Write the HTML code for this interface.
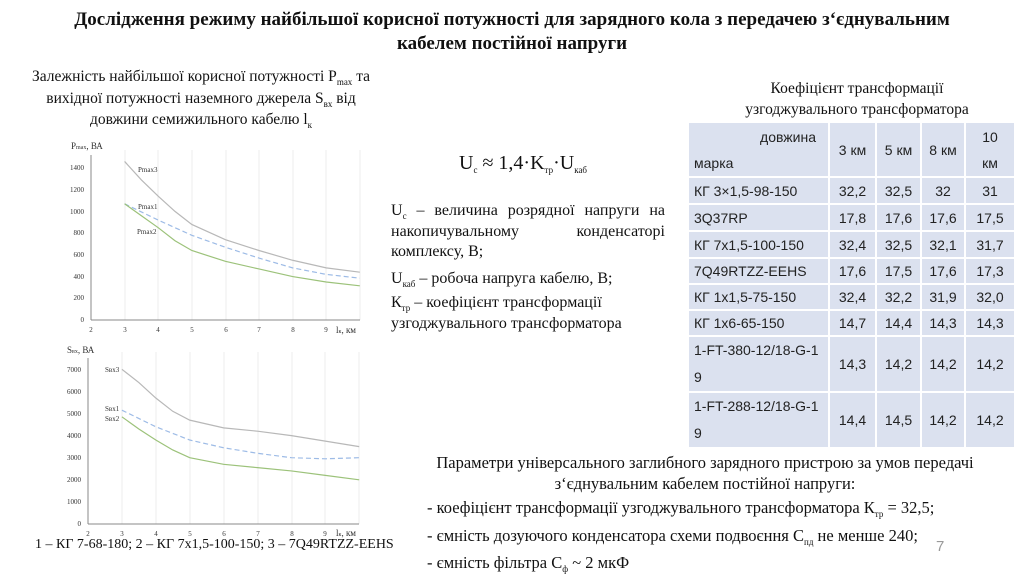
<!DOCTYPE html>
<html><head><meta charset="utf-8">
<style>
body{margin:0;width:1024px;height:576px;background:#fff;position:relative;overflow:hidden;font-family:"Liberation Serif",serif;color:#111}
.a{position:absolute;white-space:nowrap}
.t{font-weight:bold;font-size:19px;text-align:center;width:1024px;left:0}
.s{font-size:15.5px}
.m{font-size:16px}
.j{text-align:justify;text-align-last:justify;width:274px;white-space:normal}
sub{font-size:9px;vertical-align:-4px}
table{position:absolute;left:687px;top:121px;border-collapse:collapse;table-layout:fixed;width:327px;font-family:"Liberation Sans","DejaVu Sans",sans-serif;font-size:14px;color:#222}
td{background:#dbe1ef;border:2px solid #fff;padding:0;text-align:center}
td.l{text-align:left;padding-left:5px}
</style></head><body>
<div class="a t" style="top:9px">Дослідження режиму найбільшої корисної потужності для зарядного кола з передачею з‘єднувальним</div>
<div class="a t" style="top:33px">кабелем постійної напруги</div>

<div class="a s" style="left:0;width:402px;text-align:center;top:68px">Залежність найбільшої корисної потужності P<sub>max</sub> та</div>
<div class="a s" style="left:0;width:402px;text-align:center;top:90px">вихідної потужності наземного джерела S<sub>вх</sub> від</div>
<div class="a s" style="left:0;width:402px;text-align:center;top:111px">довжини семижильного  кабелю l<sub>к</sub></div>

<div class="a s" style="left:722px;width:270px;text-align:center;top:78px;line-height:21px">Коефіцієнт трансформації<br>узгоджувального трансформатора</div>

<svg class="a" style="left:0;top:0" width="1024" height="576" font-family="Liberation Serif,serif" font-size="7" fill="#333">
<g stroke="#ececec" stroke-width="1">
<line x1="125" y1="150" x2="125" y2="320"/><line x1="158" y1="150" x2="158" y2="320"/><line x1="192" y1="150" x2="192" y2="320"/><line x1="226" y1="150" x2="226" y2="320"/><line x1="259" y1="150" x2="259" y2="320"/><line x1="293" y1="150" x2="293" y2="320"/><line x1="326" y1="150" x2="326" y2="320"/><line x1="360" y1="150" x2="360" y2="320"/>
<line x1="122" y1="352" x2="122" y2="524"/><line x1="156" y1="352" x2="156" y2="524"/><line x1="190" y1="352" x2="190" y2="524"/><line x1="224" y1="352" x2="224" y2="524"/><line x1="258" y1="352" x2="258" y2="524"/><line x1="292" y1="352" x2="292" y2="524"/><line x1="325" y1="352" x2="325" y2="524"/><line x1="359" y1="352" x2="359" y2="524"/>
</g>
<g stroke="#888" stroke-width="1"><line x1="91" y1="155" x2="91" y2="320"/><line x1="91" y1="320" x2="360" y2="320"/>
<line x1="88" y1="358" x2="88" y2="524"/><line x1="88" y1="524" x2="359" y2="524"/></g>
<g fill="none" stroke-width="1.2" transform="translate(91,320) scale(33.6,-0.1086) translate(-2,0)">
<polyline vector-effect="non-scaling-stroke" stroke="#b8b8b8" points="3,1460 3.5,1290 4,1140 4.5,1000 5,880 6,740 7,640 8,550 9,480 10,440"/>
<polyline vector-effect="non-scaling-stroke" stroke="#9dbbe6" stroke-dasharray="5,3" points="3,1070 4,920 5,780 6,670 7,570 8,480 9,420 10,385"/>
<polyline vector-effect="non-scaling-stroke" stroke="#9cc27a" points="3,1070 3.5,960 4,850 4.5,730 5,640 6,540 7,470 8,400 9,350 10,315"/>
</g>
<g fill="none" stroke-width="1.2" transform="translate(88,524) scale(33.9,-0.0221) translate(-2,0)">
<polyline vector-effect="non-scaling-stroke" stroke="#b8b8b8" points="3,7000 3.5,6400 4,5700 4.5,5100 5,4700 6,4350 7,4200 8,4000 9,3750 10,3500"/>
<polyline vector-effect="non-scaling-stroke" stroke="#9dbbe6" stroke-dasharray="5,3" points="3,5150 4,4400 5,3800 6,3450 7,3200 8,3000 9,2950 10,3000"/>
<polyline vector-effect="non-scaling-stroke" stroke="#9cc27a" points="3,4850 3.5,4300 4,3800 4.5,3350 5,3000 6,2700 7,2550 8,2400 9,2200 10,2000"/>
</g>
<g text-anchor="end"><text x="84" y="322">0</text><text x="84" y="300">200</text><text x="84" y="279">400</text><text x="84" y="257">600</text><text x="84" y="235">800</text><text x="84" y="214">1000</text><text x="84" y="192">1200</text><text x="84" y="170">1400</text>
<text x="81" y="526">0</text><text x="81" y="504">1000</text><text x="81" y="482">2000</text><text x="81" y="460">3000</text><text x="81" y="438">4000</text><text x="81" y="416">5000</text><text x="81" y="394">6000</text><text x="81" y="372">7000</text></g>
<g text-anchor="middle"><text x="91" y="332">2</text><text x="125" y="332">3</text><text x="158" y="332">4</text><text x="192" y="332">5</text><text x="226" y="332">6</text><text x="259" y="332">7</text><text x="293" y="332">8</text><text x="326" y="332">9</text>
<text x="88" y="536">2</text><text x="122" y="536">3</text><text x="156" y="536">4</text><text x="190" y="536">5</text><text x="224" y="536">6</text><text x="258" y="536">7</text><text x="292" y="536">8</text><text x="325" y="536">9</text></g>
<text x="138" y="172">Pmax3</text><text x="138" y="209">Pmax1</text><text x="137" y="234">Pmax2</text>
<text x="105" y="372">Sвх3</text><text x="105" y="411">Sвх1</text><text x="105" y="421">Sвх2</text>
<text x="71" y="149" font-size="9">P<tspan font-size="6">max</tspan>, ВА</text>
<text x="67" y="353" font-size="9">S<tspan font-size="6">вх</tspan>, ВА</text>
<text x="336" y="333" font-size="9">l<tspan font-size="6">к</tspan>, км</text>
<text x="336" y="536" font-size="9">l<tspan font-size="6">к</tspan>, км</text>
</svg>

<div class="a" style="left:459px;top:152px;font-size:20px">U<sub>c</sub> ≈ 1,4·K<sub>тр</sub>·U<sub>каб</sub></div>
<div class="a m j" style="left:391px;top:202px">U<sub>c</sub> – величина розрядної напруги на</div>
<div class="a m j" style="left:391px;top:223px">накопичувальному конденсаторі</div>
<div class="a m" style="left:391px;top:243px">комплексу, В;</div>
<div class="a m" style="left:391px;top:270px">U<sub>каб</sub> – робоча напруга кабелю, В;</div>
<div class="a m" style="left:391px;top:294px">К<sub>тр</sub> – коефіцієнт трансформації</div>
<div class="a m" style="left:391px;top:315px">узгоджувального трансформатора</div>

<table>
<colgroup><col style="width:141px"><col style="width:47px"><col style="width:45px"><col style="width:44px"><col style="width:50px"></colgroup>
<tr style="height:55px"><td class="l" style="line-height:26px"><div style="text-align:right;padding-right:12px">довжина</div>марка</td><td>3 км</td><td>5 км</td><td>8 км</td><td style="line-height:26px">10<br>км</td></tr>
<tr style="height:27px"><td class="l">КГ 3×1,5-98-150</td><td>32,2</td><td>32,5</td><td>32</td><td>31</td></tr>
<tr style="height:27px"><td class="l">3Q37RP</td><td>17,8</td><td>17,6</td><td>17,6</td><td>17,5</td></tr>
<tr style="height:27px"><td class="l">КГ 7х1,5-100-150</td><td>32,4</td><td>32,5</td><td>32,1</td><td>31,7</td></tr>
<tr style="height:26px"><td class="l">7Q49RTZZ-EEHS</td><td>17,6</td><td>17,5</td><td>17,6</td><td>17,3</td></tr>
<tr style="height:26px"><td class="l">КГ 1х1,5-75-150</td><td>32,4</td><td>32,2</td><td>31,9</td><td>32,0</td></tr>
<tr style="height:26px"><td class="l">КГ 1х6-65-150</td><td>14,7</td><td>14,4</td><td>14,3</td><td>14,3</td></tr>
<tr style="height:55px"><td class="l" style="line-height:27px">1-FT-380-12/18-G-1<br>9</td><td>14,3</td><td>14,2</td><td>14,2</td><td>14,2</td></tr>
<tr style="height:55px"><td class="l" style="line-height:27px">1-FT-288-12/18-G-1<br>9</td><td>14,4</td><td>14,5</td><td>14,2</td><td>14,2</td></tr>
</table>

<div class="a" style="left:400px;width:610px;text-align:center;top:452px;line-height:21px;font-size:16.5px">Параметри універсального заглибного зарядного пристрою за умов передачі<br>з‘єднувальним кабелем постійної напруги:</div>
<div class="a m" style="left:427px;top:498px;font-size:16.5px">- коефіцієнт трансформації узгоджувального трансформатора К<sub>тр</sub> = 32,5;</div>
<div class="a m" style="left:427px;top:526px;font-size:16.5px">- ємність дозуючого конденсатора схеми подвоєння С<sub>пд</sub> не менше 240;</div>
<div class="a m" style="left:427px;top:553px;font-size:16.5px">- ємність фільтра С<sub>ф</sub> ~ 2 мкФ</div>
<div class="a" style="left:35px;top:537px;font-size:14px">1 – КГ 7-68-180; 2 – КГ 7х1,5-100-150; 3 – 7Q49RTZZ-EEHS</div>
<div class="a" style="left:936px;top:538px;font-size:15px;color:#999;font-family:'Liberation Sans',sans-serif">7</div>
</body></html>
